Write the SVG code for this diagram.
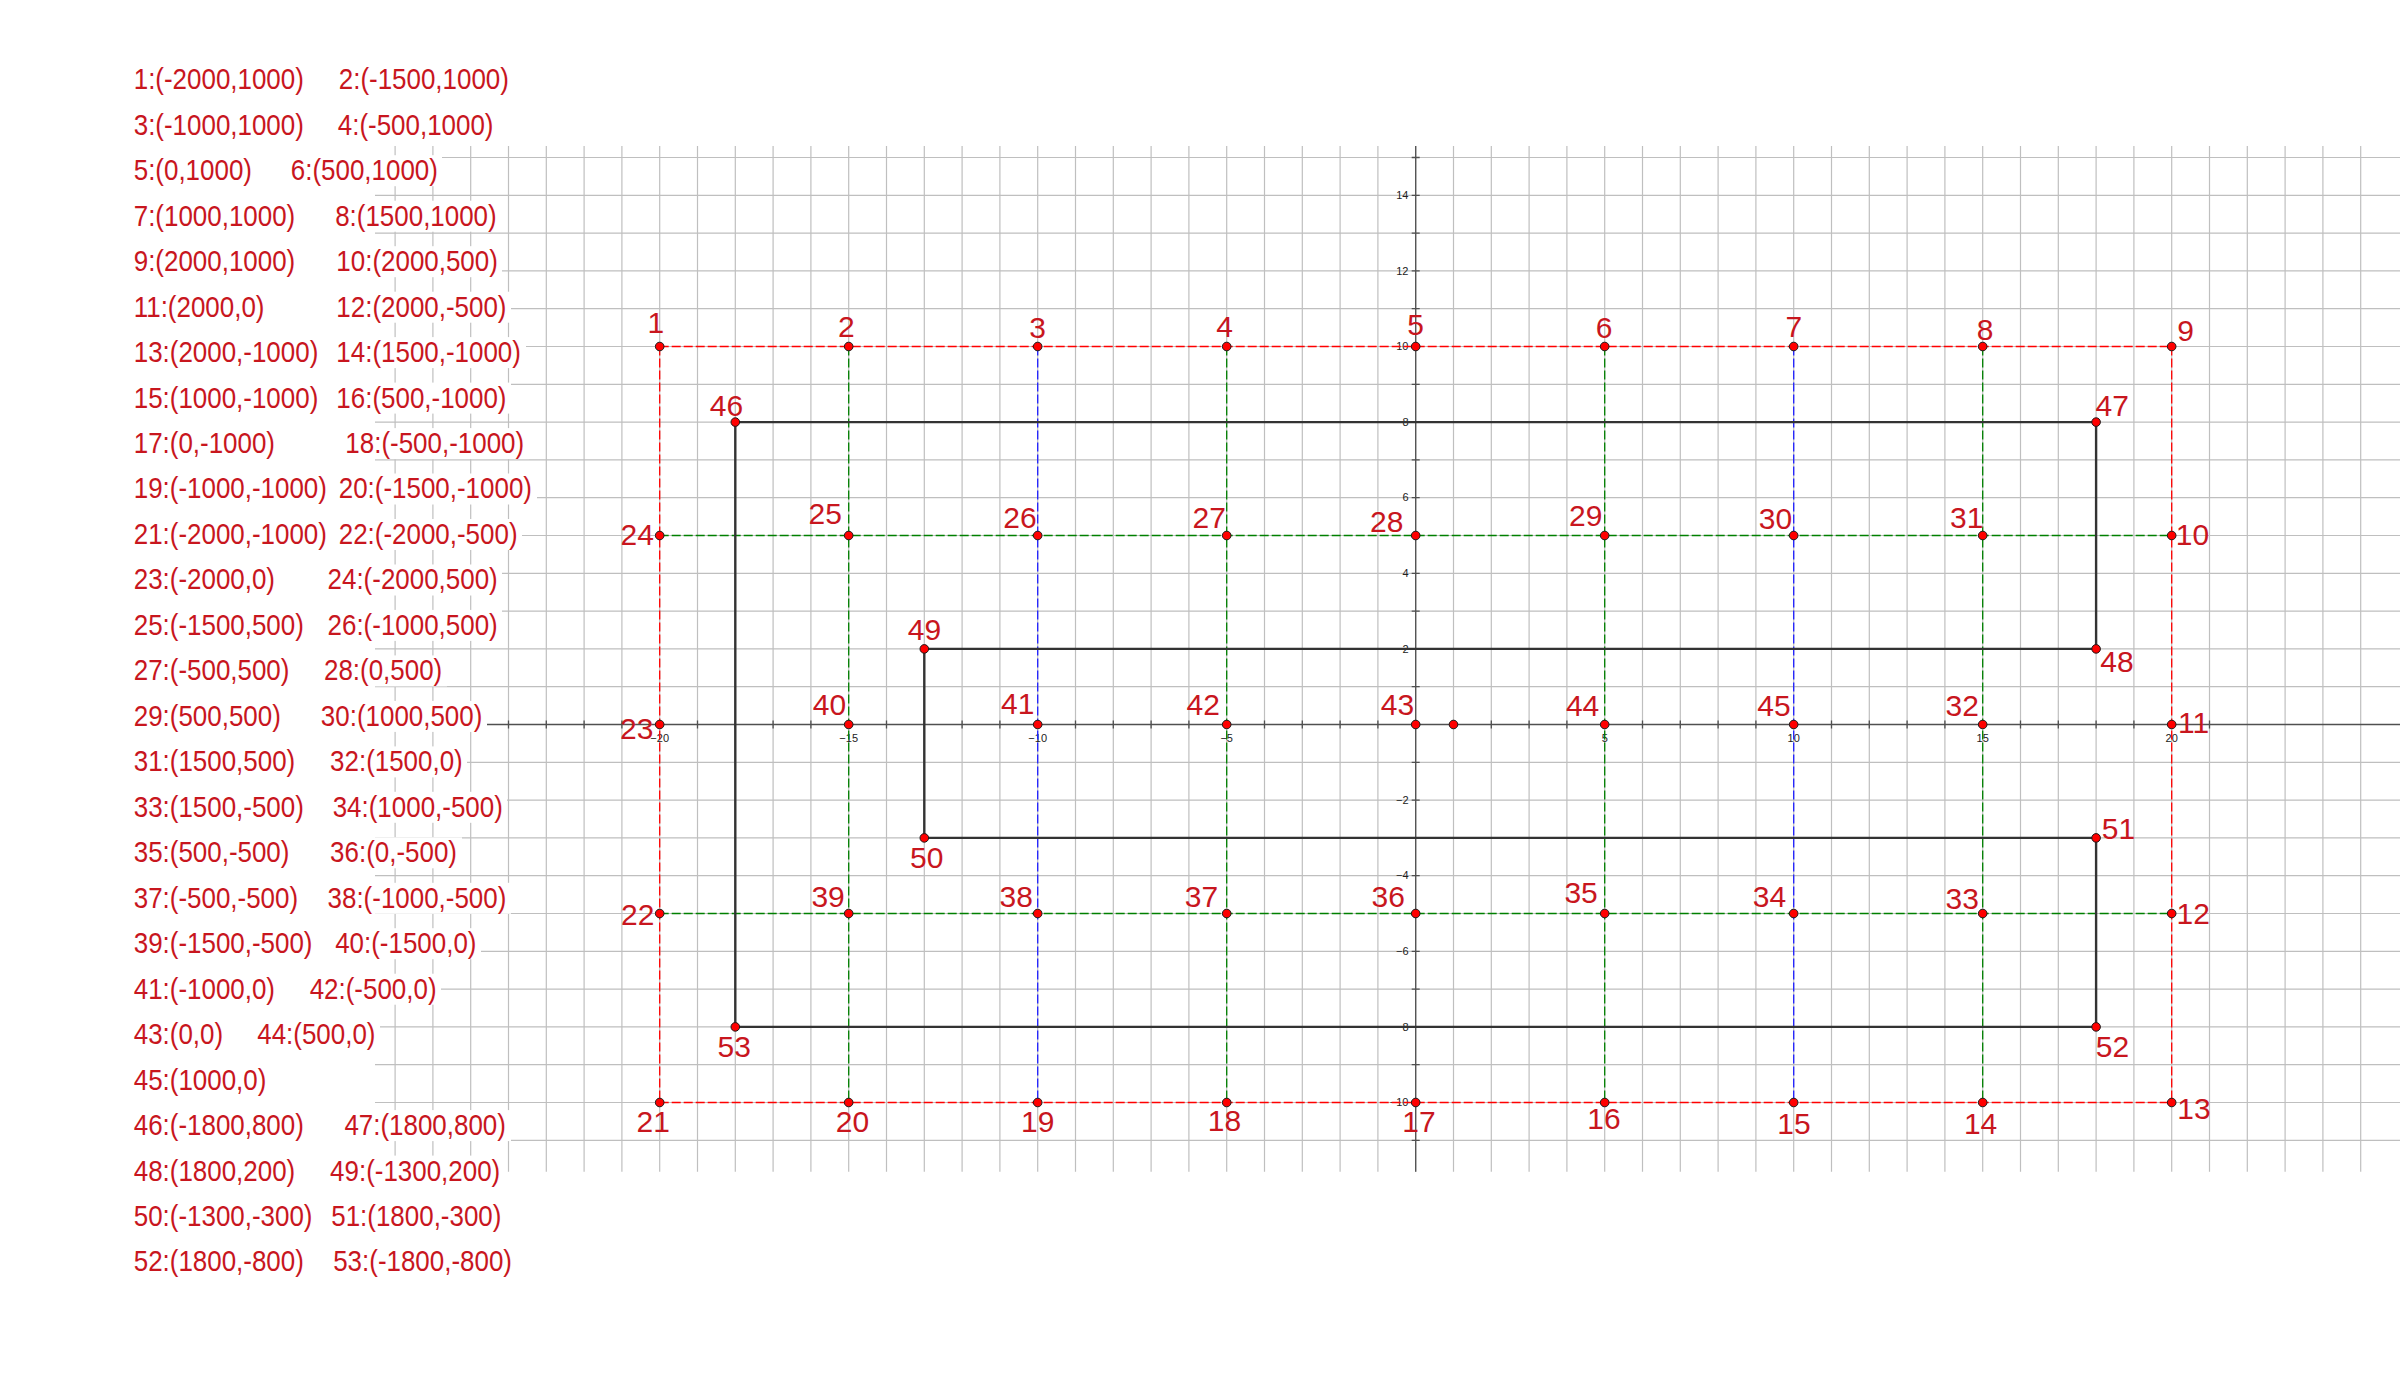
<svg xmlns="http://www.w3.org/2000/svg" width="2400" height="1400" viewBox="0 0 2400 1400">
<style>
.grid{stroke:#bfbfbf;stroke-width:1.2;fill:none}
.axis{stroke:#505050;stroke-width:1.3;fill:none}
.tick{font-family:'Liberation Sans',Arial,sans-serif;font-size:11px;fill:#222}
.tx{text-anchor:middle}
.ty{text-anchor:end}
.dash{stroke-width:1.3;stroke-dasharray:9 3;fill:none}
.dr{stroke:#ff0000}
.dg{stroke:#008000}
.db{stroke:#2020ff}
.shape{stroke:#333333;stroke-width:2.4;fill:none;stroke-linejoin:miter}
.pt{fill:#ff0000;stroke:#1a1a1a;stroke-width:1}
.lb{font-family:'Liberation Sans',Arial,sans-serif;font-size:30px;fill:#c8161e;text-anchor:middle}
.ls{font-family:'Liberation Sans',Arial,sans-serif;font-size:29px;fill:#c8161e}
.bg{fill:#ffffff}
</style>
<rect width="2400" height="1400" fill="#ffffff"/>
<g id="grid">
<path class="grid" d="M395.1 146v1025.7m37.8-1025.7v1025.7m37.8-1025.7v1025.7m37.8-1025.7v1025.7m37.8-1025.7v1025.7m37.8-1025.7v1025.7m37.8-1025.7v1025.7m37.8-1025.7v1025.7m37.8-1025.7v1025.7m37.8-1025.7v1025.7m37.8-1025.7v1025.7m37.8-1025.7v1025.7m37.8-1025.7v1025.7m37.8-1025.7v1025.7m37.8-1025.7v1025.7m37.8-1025.7v1025.7m37.8-1025.7v1025.7m37.8-1025.7v1025.7m37.8-1025.7v1025.7m37.8-1025.7v1025.7m37.8-1025.7v1025.7m37.8-1025.7v1025.7m37.8-1025.7v1025.7m37.8-1025.7v1025.7m37.8-1025.7v1025.7m37.8-1025.7v1025.7m37.8-1025.7v1025.7m37.8-1025.7v1025.7m37.8-1025.7v1025.7m37.8-1025.7v1025.7m37.8-1025.7v1025.7m37.8-1025.7v1025.7m37.8-1025.7v1025.7m37.8-1025.7v1025.7m37.8-1025.7v1025.7m37.8-1025.7v1025.7m37.8-1025.7v1025.7m37.8-1025.7v1025.7m37.8-1025.7v1025.7m37.8-1025.7v1025.7m37.8-1025.7v1025.7m37.8-1025.7v1025.7m37.8-1025.7v1025.7m37.8-1025.7v1025.7m37.8-1025.7v1025.7m37.8-1025.7v1025.7m37.8-1025.7v1025.7m37.8-1025.7v1025.7m37.8-1025.7v1025.7m37.8-1025.7v1025.7m37.8-1025.7v1025.7m37.8-1025.7v1025.7m37.8-1025.7v1025.7"/>
<path class="grid" d="M375 157.5h2025m-2025 37.8h2025m-2025 37.8h2025m-2025 37.8h2025m-2025 37.8h2025m-2025 37.8h2025m-2025 37.8h2025m-2025 37.8h2025m-2025 37.8h2025m-2025 37.8h2025m-2025 37.8h2025m-2025 37.8h2025m-2025 37.8h2025m-2025 37.8h2025m-2025 37.8h2025m-2025 37.8h2025m-2025 37.8h2025m-2025 37.8h2025m-2025 37.8h2025m-2025 37.8h2025m-2025 37.8h2025m-2025 37.8h2025m-2025 37.8h2025m-2025 37.8h2025m-2025 37.8h2025m-2025 37.8h2025m-2025 37.8h2025"/>
</g>
<g id="axes">
<path class="axis" d="M375 724.5H2400M1415.7 146V1171.7"/>
<path class="axis" d="M395.1 720.5v8m37.8-8v8m37.8-8v8m37.8-8v8m37.8-8v8m37.8-8v8m37.8-8v8m37.8-8v8m37.8-8v8m37.8-8v8m37.8-8v8m37.8-8v8m37.8-8v8m37.8-8v8m37.8-8v8m37.8-8v8m37.8-8v8m37.8-8v8m37.8-8v8m37.8-8v8m37.8-8v8m37.8-8v8m37.8-8v8m37.8-8v8m37.8-8v8m37.8-8v8m37.8-8v8m37.8-8v8m37.8-8v8m37.8-8v8m37.8-8v8m37.8-8v8m37.8-8v8m37.8-8v8m37.8-8v8m37.8-8v8m37.8-8v8m37.8-8v8m37.8-8v8m37.8-8v8m37.8-8v8m37.8-8v8m37.8-8v8m37.8-8v8m37.8-8v8m37.8-8v8m37.8-8v8m37.8-8v8m37.8-8v8"/>
<path class="axis" d="M1411.7 157.5h8m-8 37.8h8m-8 37.8h8m-8 37.8h8m-8 37.8h8m-8 37.8h8m-8 37.8h8m-8 37.8h8m-8 37.8h8m-8 37.8h8m-8 37.8h8m-8 37.8h8m-8 37.8h8m-8 37.8h8m-8 37.8h8m-8 37.8h8m-8 37.8h8m-8 37.8h8m-8 37.8h8m-8 37.8h8m-8 37.8h8m-8 37.8h8m-8 37.8h8m-8 37.8h8m-8 37.8h8m-8 37.8h8m-8 37.8h8"/>
<g class="tick tx">
<text x="659.7" y="741.7">−20</text>
<text x="848.7" y="741.7">−15</text>
<text x="1037.7" y="741.7">−10</text>
<text x="1226.7" y="741.7">−5</text>
<text x="1604.7" y="741.7">5</text>
<text x="1793.7" y="741.7">10</text>
<text x="1982.7" y="741.7">15</text>
<text x="2171.7" y="741.7">20</text>
</g>
<g class="tick ty">
<text x="1408.5" y="199">14</text>
<text x="1408.5" y="274.6">12</text>
<text x="1408.5" y="350.2">10</text>
<text x="1408.5" y="425.8">8</text>
<text x="1408.5" y="501.4">6</text>
<text x="1408.5" y="577">4</text>
<text x="1408.5" y="652.6">2</text>
<text x="1408.5" y="803.8">−2</text>
<text x="1408.5" y="879.4">−4</text>
<text x="1408.5" y="955">−6</text>
<text x="1408.5" y="1030.6">−8</text>
<text x="1408.5" y="1106.2">−10</text>
</g>
</g>
<g id="list-bg" class="bg">
<rect x="372" y="155.2" width="70" height="31"/>
<rect x="372" y="200.7" width="129" height="31"/>
<rect x="372" y="246.2" width="130" height="31"/>
<rect x="372" y="291.7" width="139" height="31"/>
<rect x="372" y="337.1" width="154" height="31"/>
<rect x="372" y="382.6" width="139" height="31"/>
<rect x="372" y="428.1" width="157" height="31"/>
<rect x="372" y="473.5" width="165" height="31"/>
<rect x="372" y="519" width="150" height="31"/>
<rect x="372" y="564.5" width="130" height="31"/>
<rect x="372" y="609.9" width="130" height="31"/>
<rect x="372" y="655.4" width="75" height="31"/>
<rect x="372" y="700.9" width="115" height="31"/>
<rect x="372" y="746.4" width="95" height="31"/>
<rect x="372" y="791.8" width="135" height="31"/>
<rect x="372" y="837.3" width="90" height="31"/>
<rect x="372" y="882.8" width="139" height="31"/>
<rect x="372" y="928.2" width="109" height="31"/>
<rect x="372" y="973.7" width="69" height="31"/>
<rect x="372" y="1019.2" width="8" height="31"/>
<rect x="372" y="1110.1" width="139" height="31"/>
<rect x="372" y="1155.6" width="133" height="31"/>
</g>
<g id="list" class="ls" transform="scale(0.895,1)">
<text x="149.4" y="89.3">1:(-2000,1000)</text><text x="378.5" y="89.3">2:(-1500,1000)</text>
<text x="149.4" y="134.8">3:(-1000,1000)</text><text x="377.4" y="134.8">4:(-500,1000)</text>
<text x="149.4" y="180.2">5:(0,1000)</text><text x="324.9" y="180.2">6:(500,1000)</text>
<text x="149.4" y="225.7">7:(1000,1000)</text><text x="374.5" y="225.7">8:(1500,1000)</text>
<text x="149.4" y="271.2">9:(2000,1000)</text><text x="375.8" y="271.2">10:(2000,500)</text>
<text x="149.4" y="316.7">11:(2000,0)</text><text x="375.8" y="316.7">12:(2000,-500)</text>
<text x="149.4" y="362.1">13:(2000,-1000)</text><text x="375.8" y="362.1">14:(1500,-1000)</text>
<text x="149.4" y="407.6">15:(1000,-1000)</text><text x="375.8" y="407.6">16:(500,-1000)</text>
<text x="149.4" y="453.1">17:(0,-1000)</text><text x="385.9" y="453.1">18:(-500,-1000)</text>
<text x="149.4" y="498.5">19:(-1000,-1000)</text><text x="378.5" y="498.5">20:(-1500,-1000)</text>
<text x="149.4" y="544">21:(-2000,-1000)</text><text x="378.5" y="544">22:(-2000,-500)</text>
<text x="149.4" y="589.5">23:(-2000,0)</text><text x="366" y="589.5">24:(-2000,500)</text>
<text x="149.4" y="634.9">25:(-1500,500)</text><text x="366" y="634.9">26:(-1000,500)</text>
<text x="149.4" y="680.4">27:(-500,500)</text><text x="362" y="680.4">28:(0,500)</text>
<text x="149.4" y="725.9">29:(500,500)</text><text x="358.5" y="725.9">30:(1000,500)</text>
<text x="149.4" y="771.4">31:(1500,500)</text><text x="368.8" y="771.4">32:(1500,0)</text>
<text x="149.4" y="816.8">33:(1500,-500)</text><text x="371.7" y="816.8">34:(1000,-500)</text>
<text x="149.4" y="862.3">35:(500,-500)</text><text x="368.8" y="862.3">36:(0,-500)</text>
<text x="149.4" y="907.8">37:(-500,-500)</text><text x="366" y="907.8">38:(-1000,-500)</text>
<text x="149.4" y="953.2">39:(-1500,-500)</text><text x="374.5" y="953.2">40:(-1500,0)</text>
<text x="149.4" y="998.7">41:(-1000,0)</text><text x="346" y="998.7">42:(-500,0)</text>
<text x="149.4" y="1044.2">43:(0,0)</text><text x="287.4" y="1044.2">44:(500,0)</text>
<text x="149.4" y="1089.6">45:(1000,0)</text>
<text x="149.4" y="1135.1">46:(-1800,800)</text><text x="384.8" y="1135.1">47:(1800,800)</text>
<text x="149.4" y="1180.6">48:(1800,200)</text><text x="368.8" y="1180.6">49:(-1300,200)</text>
<text x="149.4" y="1226.1">50:(-1300,-300)</text><text x="370.1" y="1226.1">51:(1800,-300)</text>
<text x="149.4" y="1271.5">52:(1800,-800)</text><text x="372.3" y="1271.5">53:(-1800,-800)</text>
</g>
<g id="connectors">
<path class="dash dr" d="M659.7 346.5H2171.7M659.7 1102.5H2171.7M659.7 346.5V1102.5M2171.7 346.5V1102.5"/>
<path class="dash dg" d="M659.7 535.5H2171.7M659.7 913.5H2171.7M848.7 346.5V1102.5M1226.7 346.5V1102.5M1604.7 346.5V1102.5M1982.7 346.5V1102.5"/>
<path class="dash db" d="M1037.7 346.5V1102.5M1793.7 346.5V1102.5"/>
<path class="shape" d="M735.3 422.1H2096.1V648.9H924.3V837.9H2096.1V1026.9H735.3Z"/>
</g>
<g id="nodes">
<g id="n1"><circle class="pt" cx="659.7" cy="346.5" r="4.3"/><text class="lb" x="655.8" y="333.3">1</text></g>
<g id="n2"><circle class="pt" cx="848.7" cy="346.5" r="4.3"/><text class="lb" x="846.4" y="336.5">2</text></g>
<g id="n3"><circle class="pt" cx="1037.7" cy="346.5" r="4.3"/><text class="lb" x="1037.7" y="338">3</text></g>
<g id="n4"><circle class="pt" cx="1226.7" cy="346.5" r="4.3"/><text class="lb" x="1224.5" y="336.5">4</text></g>
<g id="n5"><circle class="pt" cx="1415.7" cy="346.5" r="4.3"/><text class="lb" x="1415.5" y="335">5</text></g>
<g id="n6"><circle class="pt" cx="1604.7" cy="346.5" r="4.3"/><text class="lb" x="1604" y="338">6</text></g>
<g id="n7"><circle class="pt" cx="1793.7" cy="346.5" r="4.3"/><text class="lb" x="1793.9" y="336.5">7</text></g>
<g id="n8"><circle class="pt" cx="1982.7" cy="346.5" r="4.3"/><text class="lb" x="1985.2" y="339.6">8</text></g>
<g id="n9"><circle class="pt" cx="2171.7" cy="346.5" r="4.3"/><text class="lb" x="2185.5" y="341">9</text></g>
<g id="n10"><circle class="pt" cx="2171.7" cy="535.5" r="4.3"/><text class="lb" x="2192.5" y="545">10</text></g>
<g id="n11"><circle class="pt" cx="2171.7" cy="724.5" r="4.3"/><text class="lb" x="2193.5" y="732.7">11</text></g>
<g id="n12"><circle class="pt" cx="2171.7" cy="913.5" r="4.3"/><text class="lb" x="2193.3" y="924.3">12</text></g>
<g id="n13"><circle class="pt" cx="2171.7" cy="1102.5" r="4.3"/><text class="lb" x="2194" y="1119">13</text></g>
<g id="n14"><circle class="pt" cx="1982.7" cy="1102.5" r="4.3"/><text class="lb" x="1980.6" y="1134">14</text></g>
<g id="n15"><circle class="pt" cx="1793.7" cy="1102.5" r="4.3"/><text class="lb" x="1793.9" y="1134">15</text></g>
<g id="n16"><circle class="pt" cx="1604.7" cy="1102.5" r="4.3"/><text class="lb" x="1604" y="1129.4">16</text></g>
<g id="n17"><circle class="pt" cx="1415.7" cy="1102.5" r="4.3"/><text class="lb" x="1418.9" y="1132.4">17</text></g>
<g id="n18"><circle class="pt" cx="1226.7" cy="1102.5" r="4.3"/><text class="lb" x="1224.5" y="1130.9">18</text></g>
<g id="n19"><circle class="pt" cx="1037.7" cy="1102.5" r="4.3"/><text class="lb" x="1037.7" y="1132.4">19</text></g>
<g id="n20"><circle class="pt" cx="848.7" cy="1102.5" r="4.3"/><text class="lb" x="852.5" y="1132.4">20</text></g>
<g id="n21"><circle class="pt" cx="659.7" cy="1102.5" r="4.3"/><text class="lb" x="653.3" y="1132.3">21</text></g>
<g id="n22"><circle class="pt" cx="659.7" cy="913.5" r="4.3"/><text class="lb" x="637.7" y="925.4">22</text></g>
<g id="n23"><circle class="pt" cx="659.7" cy="724.5" r="4.3"/><text class="lb" x="636.7" y="739.3">23</text></g>
<g id="n24"><circle class="pt" cx="659.7" cy="535.5" r="4.3"/><text class="lb" x="637.2" y="544.6">24</text></g>
<g id="n25"><circle class="pt" cx="848.7" cy="535.5" r="4.3"/><text class="lb" x="825.3" y="524">25</text></g>
<g id="n26"><circle class="pt" cx="1037.7" cy="535.5" r="4.3"/><text class="lb" x="1020" y="528.3">26</text></g>
<g id="n27"><circle class="pt" cx="1226.7" cy="535.5" r="4.3"/><text class="lb" x="1209.2" y="528.3">27</text></g>
<g id="n28"><circle class="pt" cx="1415.7" cy="535.5" r="4.3"/><text class="lb" x="1386.7" y="532.4">28</text></g>
<g id="n29"><circle class="pt" cx="1604.7" cy="535.5" r="4.3"/><text class="lb" x="1585.7" y="526.3">29</text></g>
<g id="n30"><circle class="pt" cx="1793.7" cy="535.5" r="4.3"/><text class="lb" x="1775.5" y="529.4">30</text></g>
<g id="n31"><circle class="pt" cx="1982.7" cy="535.5" r="4.3"/><text class="lb" x="1966.8" y="527.8">31</text></g>
<g id="n32"><circle class="pt" cx="1982.7" cy="724.5" r="4.3"/><text class="lb" x="1962.2" y="716.1">32</text></g>
<g id="n33"><circle class="pt" cx="1982.7" cy="913.5" r="4.3"/><text class="lb" x="1962.2" y="909">33</text></g>
<g id="n34"><circle class="pt" cx="1793.7" cy="913.5" r="4.3"/><text class="lb" x="1769.4" y="907.4">34</text></g>
<g id="n35"><circle class="pt" cx="1604.7" cy="913.5" r="4.3"/><text class="lb" x="1581.1" y="902.8">35</text></g>
<g id="n36"><circle class="pt" cx="1415.7" cy="913.5" r="4.3"/><text class="lb" x="1388.2" y="907.4">36</text></g>
<g id="n37"><circle class="pt" cx="1226.7" cy="913.5" r="4.3"/><text class="lb" x="1201.5" y="907.4">37</text></g>
<g id="n38"><circle class="pt" cx="1037.7" cy="913.5" r="4.3"/><text class="lb" x="1016.3" y="907.4">38</text></g>
<g id="n39"><circle class="pt" cx="848.7" cy="913.5" r="4.3"/><text class="lb" x="828.1" y="907.4">39</text></g>
<g id="n40"><circle class="pt" cx="848.7" cy="724.5" r="4.3"/><text class="lb" x="829.5" y="715">40</text></g>
<g id="n41"><circle class="pt" cx="1037.7" cy="724.5" r="4.3"/><text class="lb" x="1017.7" y="714.3">41</text></g>
<g id="n42"><circle class="pt" cx="1226.7" cy="724.5" r="4.3"/><text class="lb" x="1203.2" y="715">42</text></g>
<g id="n43"><circle class="pt" cx="1415.7" cy="724.5" r="4.3"/><text class="lb" x="1397.5" y="715">43</text></g>
<g id="n44"><circle class="pt" cx="1604.7" cy="724.5" r="4.3"/><text class="lb" x="1582.6" y="716.1">44</text></g>
<g id="n45"><circle class="pt" cx="1793.7" cy="724.5" r="4.3"/><text class="lb" x="1774" y="716.1">45</text></g>
<g id="n46"><circle class="pt" cx="735.3" cy="422.1" r="4.3"/><text class="lb" x="726.5" y="416">46</text></g>
<g id="n47"><circle class="pt" cx="2096.1" cy="422.1" r="4.3"/><text class="lb" x="2112.2" y="416.1">47</text></g>
<g id="n48"><circle class="pt" cx="2096.1" cy="648.9" r="4.3"/><text class="lb" x="2117" y="672.3">48</text></g>
<g id="n49"><circle class="pt" cx="924.3" cy="648.9" r="4.3"/><text class="lb" x="924.5" y="640">49</text></g>
<g id="n50"><circle class="pt" cx="924.3" cy="837.9" r="4.3"/><text class="lb" x="926.8" y="867.7">50</text></g>
<g id="n51"><circle class="pt" cx="2096.1" cy="837.9" r="4.3"/><text class="lb" x="2118.4" y="838.5">51</text></g>
<g id="n52"><circle class="pt" cx="2096.1" cy="1026.9" r="4.3"/><text class="lb" x="2112.5" y="1056.7">52</text></g>
<g id="n53"><circle class="pt" cx="735.3" cy="1026.9" r="4.3"/><text class="lb" x="734.3" y="1056.7">53</text></g>
<g id="n-extra"><circle class="pt" cx="1453.5" cy="724.5" r="4.3"/></g>
</g>
</svg>
